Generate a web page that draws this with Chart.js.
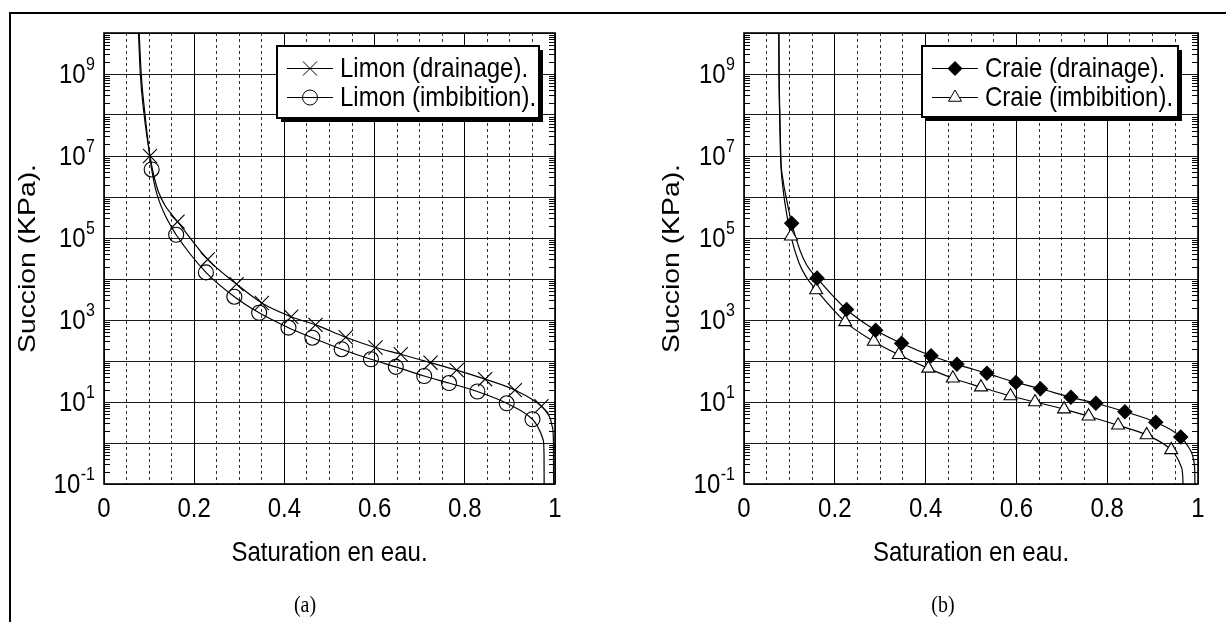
<!DOCTYPE html>
<html>
<head>
<meta charset="utf-8">
<script src="https://cdn.jsdelivr.net/npm/chart.js@4.4.1/dist/chart.umd.min.js"></script>
<style>
  html, body { margin: 0; padding: 0; background: #fff; }
  body { width: 1226px; height: 622px; position: relative; overflow: hidden; }
  #frame { position: absolute; left: 9px; top: 12px; width: 1240px; height: 640px;
           border-left: 2px solid #000; border-top: 2px solid #000; }
  .panel { position: absolute; top: 0; height: 622px; }
  #panelA { left: 0; width: 613px; }
  #panelB { left: 640px; width: 586px; }
  .cap { position: absolute; top: 591px; width: 60px; margin-left: -30px; text-align: center;
         font-family: "Liberation Serif", "Times New Roman", serif; font-size: 20px; color: #000;
         transform: scaleY(1.18); transform-origin: 50% 0; }
</style>
</head>
<body>
<div id="frame"></div>
<div class="panel" id="panelA"><canvas id="chartA" width="613" height="622"></canvas></div>
<div class="panel" id="panelB"><canvas id="chartB" width="586" height="622"></canvas></div>
<div class="cap" style="left:305px">(a)</div>
<div class="cap" style="left:943px">(b)</div>

<script>
// ---- axes ----
const xTicks = [0, 0.05, 0.1, 0.15, 0.2, 0.25, 0.3, 0.35, 0.4, 0.45, 0.5,
                0.55, 0.6, 0.65, 0.7, 0.75, 0.8, 0.85, 0.9, 0.95, 1];
const xLabelValues = [0, 0.2, 0.4, 0.6, 0.8, 1];
const xTickLabels = ['0', '0.2', '0.4', '0.6', '0.8', '1'];
const yDecades = [1e-1, 1e0, 1e1, 1e2, 1e3, 1e4, 1e5, 1e6, 1e7, 1e8, 1e9, 1e10];
const yLabelValues = [1e-1, 1e1, 1e3, 1e5, 1e7, 1e9];
const yLabelExponents = ['-1', '1', '3', '5', '7', '9'];
const xTitle = 'Saturation en eau.';
const yTitle = 'Succion (KPa).';

// ---- (a) Limon ----
const limonDrainMarkX = [0.102, 0.163, 0.230, 0.294, 0.350, 0.415, 0.469, 0.536, 0.602, 0.658, 0.724, 0.782, 0.845, 0.911, 0.970];
const limonDrainMarkY = [1.0e7, 2.5e5, 3.0e4, 7.5e3, 2.6e3, 1.2e3, 760, 380, 213, 146, 91, 60, 36, 19.5, 7.9];
const limonDrainHeadX = [0.0765, 0.0805, 0.089];
const limonDrainHeadY = [1e10, 1e9, 1e8];
const limonDrainKneeX = [0.110, 0.120, 0.135, 0.148];
const limonDrainKneeY = [3.5e6, 1.4e6, 6.3e5, 4.0e5];
const limonDrainTailX = [0.982, 0.990, 0.994, 0.9965, 0.997];
const limonDrainTailY = [5.5, 3.8, 2.5, 1.2, 0.05];

const limonImbMarkX = [0.1057, 0.160, 0.226, 0.289, 0.344, 0.409, 0.462, 0.527, 0.592, 0.647, 0.710, 0.765, 0.828, 0.893, 0.950];
const limonImbMarkY = [4.7e6, 1.2e5, 1.45e4, 3.7e3, 1.5e3, 650, 370, 194, 110, 72, 43, 29, 18, 9.3, 3.8];
const limonImbHeadX = [0.078, 0.0825, 0.091, 0.1015];
const limonImbHeadY = [1e10, 1e9, 1e8, 1e7];
const limonImbKneeX = [0.113, 0.123, 0.136, 0.148];
const limonImbKneeY = [1.8e6, 7.6e5, 3.5e5, 2.0e5];
const limonImbTailX = [0.960, 0.967, 0.974, 0.9757, 0.976];
const limonImbTailY = [2.7, 1.9, 1.17, 0.5, 0.05];

// ---- (b) Craie ----
const craieDrainMarkX = [0.105, 0.161, 0.226, 0.290, 0.347, 0.412, 0.469, 0.535, 0.599, 0.653, 0.720, 0.775, 0.839, 0.907, 0.962];
const craieDrainMarkY = [2.3e5, 1.05e4, 1.8e3, 560, 270, 134, 83, 50, 30, 21, 13, 9.3, 5.8, 3.2, 1.4];
const craieDrainHeadX = [0.077, 0.0775, 0.079, 0.081, 0.086, 0.094];
const craieDrainHeadY = [1e10, 1e9, 1e8, 1e7, 2.6e6, 8.5e5];
const craieDrainKneeX = [0.123, 0.138];
const craieDrainKneeY = [5.1e4, 2.2e4];
const craieDrainTailX = [0.979, 0.988, 0.991, 0.993, 0.9935];
const craieDrainTailY = [0.8, 0.5, 0.35, 0.18, 0.05];

const craieImbMarkX = [0.1035, 0.159, 0.223, 0.286, 0.341, 0.406, 0.460, 0.522, 0.587, 0.641, 0.705, 0.759, 0.824, 0.887, 0.941];
const craieImbMarkY = [1.1e5, 5.4e3, 900, 300, 142, 66, 38, 23, 14, 10, 6.7, 4.5, 2.7, 1.57, 0.68];
const craieImbHeadX = [0.0765, 0.077, 0.0785, 0.0805, 0.086, 0.093];
const craieImbHeadY = [1e10, 1e9, 1e8, 1e7, 1.6e6, 4.5e5];
const craieImbKneeX = [0.121, 0.137];
const craieImbKneeY = [2.5e4, 1.12e4];
const craieImbTailX = [0.955, 0.962, 0.9665, 0.9675];
const craieImbTailY = [0.42, 0.28, 0.15, 0.05];

// ---- helpers ----
const FONT = "'Liberation Sans', Arial, sans-serif";
const TEXT_STRETCH = 1.18;   // glyphs are drawn a little taller than wide
const pts = (xs, ys) => xs.map((x, i) => ({ x, y: ys[i] }));
const byX = (a, b) => a.x - b.x;
function curve(parts) {
  return parts.flatMap(([xs, ys]) => pts(xs, ys)).sort(byX);
}

function label(ctx, s, x, y, o = {}) {
  ctx.save();
  ctx.translate(x, y);
  ctx.scale(1, TEXT_STRETCH);
  if (o.rotate) ctx.rotate(-Math.PI / 2);
  ctx.font = (o.size || 24) + 'px ' + FONT;
  ctx.fillStyle = '#000';
  ctx.textAlign = o.align || 'center';
  ctx.textBaseline = o.baseline || 'middle';
  ctx.fillText(s, 0, 0);
  ctx.restore();
}

// marker glyphs with the same geometry Chart.js uses
function drawGlyph(ctx, style, r, x, y) {
  ctx.beginPath();
  if (style === 'crossRot') {
    const d = r * Math.SQRT1_2;
    ctx.moveTo(x - d, y - d); ctx.lineTo(x + d, y + d);
    ctx.moveTo(x + d, y - d); ctx.lineTo(x - d, y + d);
    ctx.stroke();
  } else if (style === 'circle') {
    ctx.arc(x, y, r, 0, Math.PI * 2);
    ctx.stroke();
  } else if (style === 'rectRot') {
    ctx.moveTo(x - r, y); ctx.lineTo(x, y - r); ctx.lineTo(x + r, y); ctx.lineTo(x, y + r);
    ctx.closePath(); ctx.fill(); ctx.stroke();
  } else if (style === 'triangle') {
    const s = r * Math.sin(2 * Math.PI / 3);
    ctx.moveTo(x, y - r); ctx.lineTo(x + s, y + r / 2); ctx.lineTo(x - s, y + r / 2);
    ctx.closePath(); ctx.fill(); ctx.stroke();
  }
}

// frame, inner log ticks, axis text and the boxed legend
const decorPlugin = {
  id: 'decor',
  afterDraw(chart, args, opts) {
    const { ctx, chartArea: a, scales: { x, y } } = chart;
    ctx.save();
    ctx.strokeStyle = '#000';
    ctx.lineWidth = 1;
    ctx.beginPath();
    for (let i = 0; i < yDecades.length - 1; i++) {
      for (let k = 2; k < 10; k++) {
        const py = Math.round(y.getPixelForValue(yDecades[i] * k)) + 0.5;
        ctx.moveTo(a.left, py); ctx.lineTo(a.left + 6, py);
        ctx.moveTo(a.right, py); ctx.lineTo(a.right - 6, py);
      }
    }
    ctx.stroke();
    ctx.lineWidth = 1.6;
    ctx.strokeRect(a.left, a.top, a.right - a.left, a.bottom - a.top);

    // x tick labels and title
    xLabelValues.forEach((v, i) => label(ctx, xTickLabels[i], x.getPixelForValue(v), a.bottom + 25));
    label(ctx, xTitle, (a.left + a.right) / 2, a.bottom + 69);
    // y tick labels: 10 with superscript exponent, and rotated title
    yLabelValues.forEach((v, i) => {
      const py = y.getPixelForValue(v);
      ctx.font = '16px ' + FONT;
      const ex = yLabelExponents[i];
      const exW = ctx.measureText(ex).width;
      const right = a.left - 9;
      label(ctx, ex, right, py - 4, { size: 16, align: 'right', baseline: 'alphabetic' });
      label(ctx, '10', right - exW - 0.5, py + 1, { align: 'right' });
    });
    label(ctx, yTitle, opts.yTitleX, (a.top + a.bottom) / 2, { rotate: true });

    // legend
    const L = opts.legend;
    ctx.fillStyle = '#000';
    ctx.fillRect(L.x + 4, L.y + 4, L.w, L.h);
    ctx.fillStyle = '#fff';
    ctx.fillRect(L.x, L.y, L.w, L.h);
    ctx.lineWidth = 2;
    ctx.strokeStyle = '#000';
    ctx.strokeRect(L.x, L.y, L.w, L.h);
    L.items.forEach((it, i) => {
      const ry = L.rowY[i];
      ctx.lineWidth = 1;
      ctx.beginPath();
      ctx.moveTo(L.lineX0, ry + 0.5); ctx.lineTo(L.lineX1, ry + 0.5);
      ctx.stroke();
      ctx.fillStyle = it.fill;
      drawGlyph(ctx, it.style, it.radius, (L.lineX0 + L.lineX1) / 2, ry + 0.5);
      label(ctx, it.label, L.textX, ry + 1, { align: 'left' });
    });
    ctx.restore();
  }
};

function makeChart(id, series, yTitleX, padRight, legend) {
  const datasets = [];
  series.forEach(s => {
    datasets.push({
      data: pts(s.markX, s.markY),
      showLine: false,
      pointStyle: s.style,
      pointRadius: s.radius,
      pointBorderWidth: 1.1,
      pointBorderColor: '#000',
      pointBackgroundColor: s.fill,
      order: 0
    });
  });
  series.forEach(s => {
    datasets.push({
      data: curve([[s.headX, s.headY], [s.markX, s.markY], [s.kneeX, s.kneeY], [s.tailX, s.tailY]]),
      showLine: true,
      pointRadius: 0,
      borderColor: '#000',
      borderWidth: 1.2,
      cubicInterpolationMode: 'monotone',
      fill: false,
      order: 1
    });
  });

  const onTick = v => Math.abs(v * 5 - Math.round(v * 5)) < 1e-9;
  return new Chart(document.getElementById(id), {
    type: 'scatter',
    data: { datasets },
    options: {
      responsive: false,
      animation: false,
      devicePixelRatio: 1,
      events: [],
      layout: { padding: { top: 33, right: padRight, bottom: 0, left: 0 } },
      plugins: { legend: { display: false }, tooltip: { enabled: false }, decor: { legend, yTitleX } },
      scales: {
        x: {
          type: 'linear', min: 0, max: 1,
          afterBuildTicks: sc => { sc.ticks = xTicks.map(v => ({ value: v })); },
          afterFit: sc => { sc.height = 138; },
          ticks: { display: false },
          grid: {
            drawTicks: false,
            color: c => onTick(c.tick.value) ? '#000' : '#333',
            lineWidth: 1
          },
          border: { display: false, dash: c => onTick(c.tick.value) ? [] : [3, 3] }
        },
        y: {
          type: 'logarithmic', min: 1e-1, max: 1e10,
          afterBuildTicks: sc => { sc.ticks = yDecades.map(v => ({ value: v })); },
          afterFit: sc => { sc.width = 104; },
          ticks: { display: false },
          grid: { drawTicks: false, color: '#1a1a1a', lineWidth: 1 },
          border: { display: false }
        }
      }
    },
    plugins: [decorPlugin]
  });
}

makeChart('chartA', [
  { markX: limonDrainMarkX, markY: limonDrainMarkY, headX: limonDrainHeadX, headY: limonDrainHeadY,
    kneeX: limonDrainKneeX, kneeY: limonDrainKneeY, tailX: limonDrainTailX, tailY: limonDrainTailY,
    style: 'crossRot', radius: 10, fill: 'rgba(0,0,0,0)' },
  { markX: limonImbMarkX, markY: limonImbMarkY, headX: limonImbHeadX, headY: limonImbHeadY,
    kneeX: limonImbKneeX, kneeY: limonImbKneeY, tailX: limonImbTailX, tailY: limonImbTailY,
    style: 'circle', radius: 7.5, fill: 'rgba(0,0,0,0)' }
], 28, 58, {
  x: 277, y: 46, w: 262, h: 72, lineX0: 287, lineX1: 333, textX: 340, rowY: [68, 97],
  items: [
    { label: 'Limon (drainage).', style: 'crossRot', radius: 10, fill: 'rgba(0,0,0,0)' },
    { label: 'Limon (imbibition).', style: 'circle', radius: 7.5, fill: 'rgba(0,0,0,0)' }
  ]
});

makeChart('chartB', [
  { markX: craieDrainMarkX, markY: craieDrainMarkY, headX: craieDrainHeadX, headY: craieDrainHeadY,
    kneeX: craieDrainKneeX, kneeY: craieDrainKneeY, tailX: craieDrainTailX, tailY: craieDrainTailY,
    style: 'rectRot', radius: 7, fill: '#000' },
  { markX: craieImbMarkX, markY: craieImbMarkY, headX: craieImbHeadX, headY: craieImbHeadY,
    kneeX: craieImbKneeX, kneeY: craieImbKneeY, tailX: craieImbTailX, tailY: craieImbTailY,
    style: 'triangle', radius: 7.5, fill: '#fff' }
], 32, 28, {
  x: 282, y: 46, w: 256, h: 71, lineX0: 292, lineX1: 338, textX: 345, rowY: [68, 97],
  items: [
    { label: 'Craie (drainage).', style: 'rectRot', radius: 7, fill: '#000' },
    { label: 'Craie (imbibition).', style: 'triangle', radius: 7.5, fill: '#fff' }
  ]
});
</script>
</body>
</html>
